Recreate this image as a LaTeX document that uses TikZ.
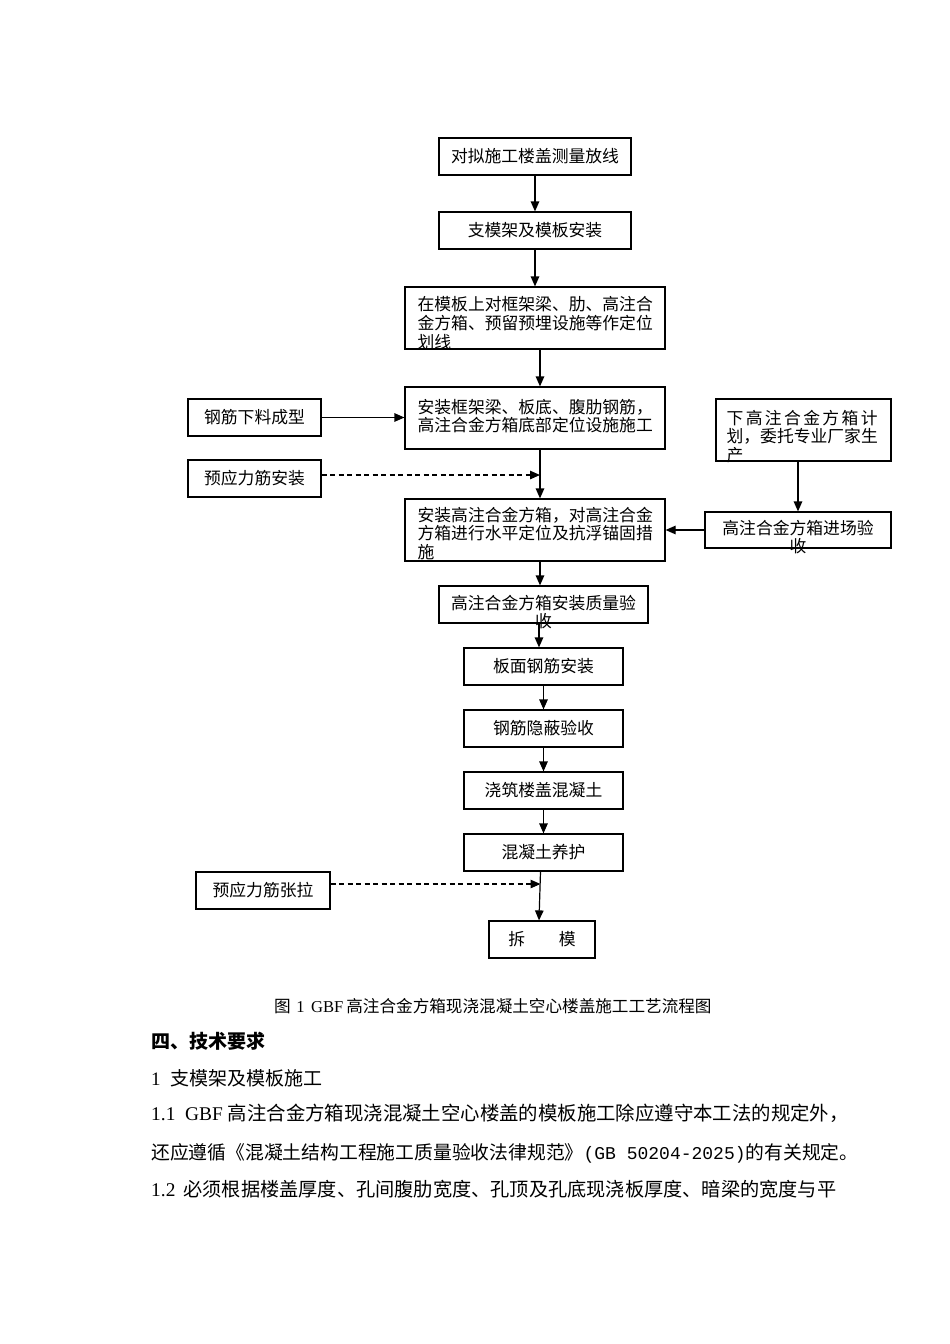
\documentclass[tikz,border=0pt]{standalone}
\usepackage{fontspec}
\setmainfont{Liberation Serif}
\newfontfamily\cjk{Noto Sans CJK SC}
\newfontfamily\mono{Liberation Mono}
\usetikzlibrary{arrows.meta}
\setlength\parindent{0pt}
\newcommand\fs[2]{\fontsize{#1}{#2}\selectfont}
\newcommand\topline{\rule{0pt}{15pt}}
\tikzset{
  box/.style={draw, line width=1.2pt, inner sep=0pt, font=\cjk\fs{16.8}{19}},
  txt/.style={inner sep=0pt, font=\cjk\fs{16.8}{19}},
  conn/.style={-{Triangle[length=10pt,width=8.5pt]}, line width=1.2pt},
  dconn/.style={conn, dash pattern=on 5pt off 3.5pt},
  body/.style={inner sep=0pt, anchor=base west, font=\cjk\fs{19.4}{22}},
}
\begin{document}
\begin{tikzpicture}[x=1pt,y=-1pt]
\fill[white] (0,0) rectangle (950,1344);
\useasboundingbox (0,0) rectangle (950,1344);

% boxes
\node[box, minimum width=192pt, minimum height=37pt] (b1) at (535,156.5) {对拟施工楼盖测量放线};
\node[box, minimum width=192pt, minimum height=37pt] (b2) at (535,230.5) {支模架及模板安装};
\node[box, minimum width=260pt, minimum height=62pt] (b3) at (535,318) {};
\node[box, minimum width=260pt, minimum height=62pt] (b4) at (535,418) {};
\node[box, minimum width=133pt, minimum height=37pt] (b5) at (254.5,417.5) {钢筋下料成型};
\node[box, minimum width=133pt, minimum height=37pt] (b6) at (254.5,478.5) {预应力筋安装};
\node[box, minimum width=260pt, minimum height=62pt] (b7) at (535,530) {};
\node[box, minimum width=175pt, minimum height=62pt] (b8) at (803.5,430) {};
\node[box, minimum width=186pt, minimum height=36pt] (b9) at (798,530) {};
\node[box, minimum width=209pt, minimum height=37pt] (b10) at (543.5,604.5) {};
\node[box, minimum width=159pt, minimum height=37pt] (b11) at (543.5,666.5) {板面钢筋安装};
\node[box, minimum width=159pt, minimum height=37pt] (b12) at (543.5,728.5) {钢筋隐蔽验收};
\node[box, minimum width=159pt, minimum height=37pt] (b13) at (543.5,790.5) {浇筑楼盖混凝土};
\node[box, minimum width=159pt, minimum height=37pt] (b14) at (543.5,852.5) {混凝土养护};
\node[box, minimum width=134pt, minimum height=37pt] (b15) at (263,890.5) {预应力筋张拉};
\node[box, minimum width=106pt, minimum height=37pt] (b16) at (542,939.5) {拆\hspace{2em}模};

% texts of multi-line boxes
\node[txt, anchor=north west, text width=250pt, align=left] (t3) at ([xshift=13pt,yshift=-8.4pt]b3.north west)
  {\topline\hbox to 235pt{在\hfil 模\hfil 板\hfil 上\hfil 对\hfil 框\hfil 架\hfil 梁\hfil 、\hfil 肋\hfil 、\hfil 高\hfil 注\hfil 合}\\金方箱、预留预埋设施等作定位\\划线};
\node[txt, anchor=north west, text width=250pt, align=left, font=\cjk\fs{16.8}{18}] (t4) at ([xshift=13pt,yshift=-11.4pt]b4.north west)
  {\topline 安装框架梁、板底、腹肋钢筋，\\高注合金方箱底部定位设施施工};
\node[txt, anchor=north west, text width=250pt, align=left, font=\cjk\fs{16.8}{18.5}] (t7) at ([xshift=13pt,yshift=-7.4pt]b7.north west)
  {\topline 安装高注合金方箱，对高注合金\\方箱进行水平定位及抗浮锚固措\\施};
\node[txt, anchor=north west, text width=170pt, align=left, font=\cjk\fs{16.8}{18.5}] (t8) at ([xshift=11pt,yshift=-10.4pt]b8.north west)
  {\topline\hbox to 151pt{下\hfil 高\hfil 注\hfil 合\hfil 金\hfil 方\hfil 箱\hfil 计}\\划，委托专业厂家生\\产};
\node[txt, anchor=north, text width=180pt, align=center, font=\cjk\fs{16.8}{18.5}] (t9) at ([yshift=-7.5pt]b9.north)
  {\topline 高注合金方箱进场验\\收};
\node[txt, anchor=north, text width=200pt, align=center, font=\cjk\fs{16.8}{18}] (t10) at ([yshift=-9pt]b10.north)
  {\topline 高注合金方箱安装质量验\\收};

% junction coordinates
\coordinate (j1) at (540,475);
\coordinate (j2) at (540.5,884);

% connectors
\draw[conn] (b1) -- (b2);
\draw[conn] (b2) -- (b3);
\draw[conn] ([xshift=5pt]b3.south) -- ([xshift=5pt]b4.north);
\draw[conn] ([xshift=5pt]b4.south) -- ([xshift=5pt]b7.north);
\draw[conn] (b5.east) -- (b5.east -| b4.west);
\draw[dconn] (b6.east |- j1) -- (j1);
\draw[conn] (b9.north |- b8.south) -- (b9.north);
\draw[conn] (b9.west) -- (b9.west -| b7.east);
\draw[conn] ([xshift=5pt]b7.south) -- ([xshift=-3.5pt]b10.north);
\draw[conn] ([xshift=-4.5pt]b10.south) -- ([xshift=-4.5pt]b11.north);
\draw[conn] (b11) -- (b12);
\draw[conn] (b12) -- (b13);
\draw[conn] (b13) -- (b14);
\draw[conn] ([xshift=-3pt]b14.south) -- ([xshift=-3pt]b16.north);
\draw[dconn] (b15.east |- j2) -- (j2);

% caption and body text
\node[inner sep=0pt, anchor=base west, font=\fs{16.6}{20}] (cap) at (274,1012)
  {{\cjk 图}\hspace{5.5pt}1\hspace{6.5pt}GBF\hspace{3pt}{\cjk 高注合金方箱现浇混凝土空心楼盖施工工艺流程图}};
\node[body, font=\cjk\bfseries\fs{19}{22}] (h4) at (151,1048) {四、技术要求};
\node[body, font=\cjk\fs{19}{22}] (h1) at (151,1085) {{\rmfamily 1}\hspace{10pt}支模架及模板施工};
\node[body] (p1) at (151,1120) {{\rmfamily 1.1}\hspace{9.7pt}{\rmfamily GBF}\hspace{5pt}高注合金方箱现浇混凝土空心楼盖的模板施工除应遵守本工法的规定外，};
\node[body, font=\cjk\fs{18.8}{22}] (p2) at (151,1159) {还应遵循《混凝土结构工程施工质量验收法律规范》{\mono\fs{18}{22}(GB 50204-2025)}的有关规定。};
\node[body, font=\cjk\fs{19.2}{22}] (p3) at (151,1196) {{\rmfamily\fs{19.4}{22}1.2}\hspace{8pt}必须根据楼盖厚度、孔间腹肋宽度、孔顶及孔底现浇板厚度、暗梁的宽度与平};
\end{tikzpicture}
\end{document}
